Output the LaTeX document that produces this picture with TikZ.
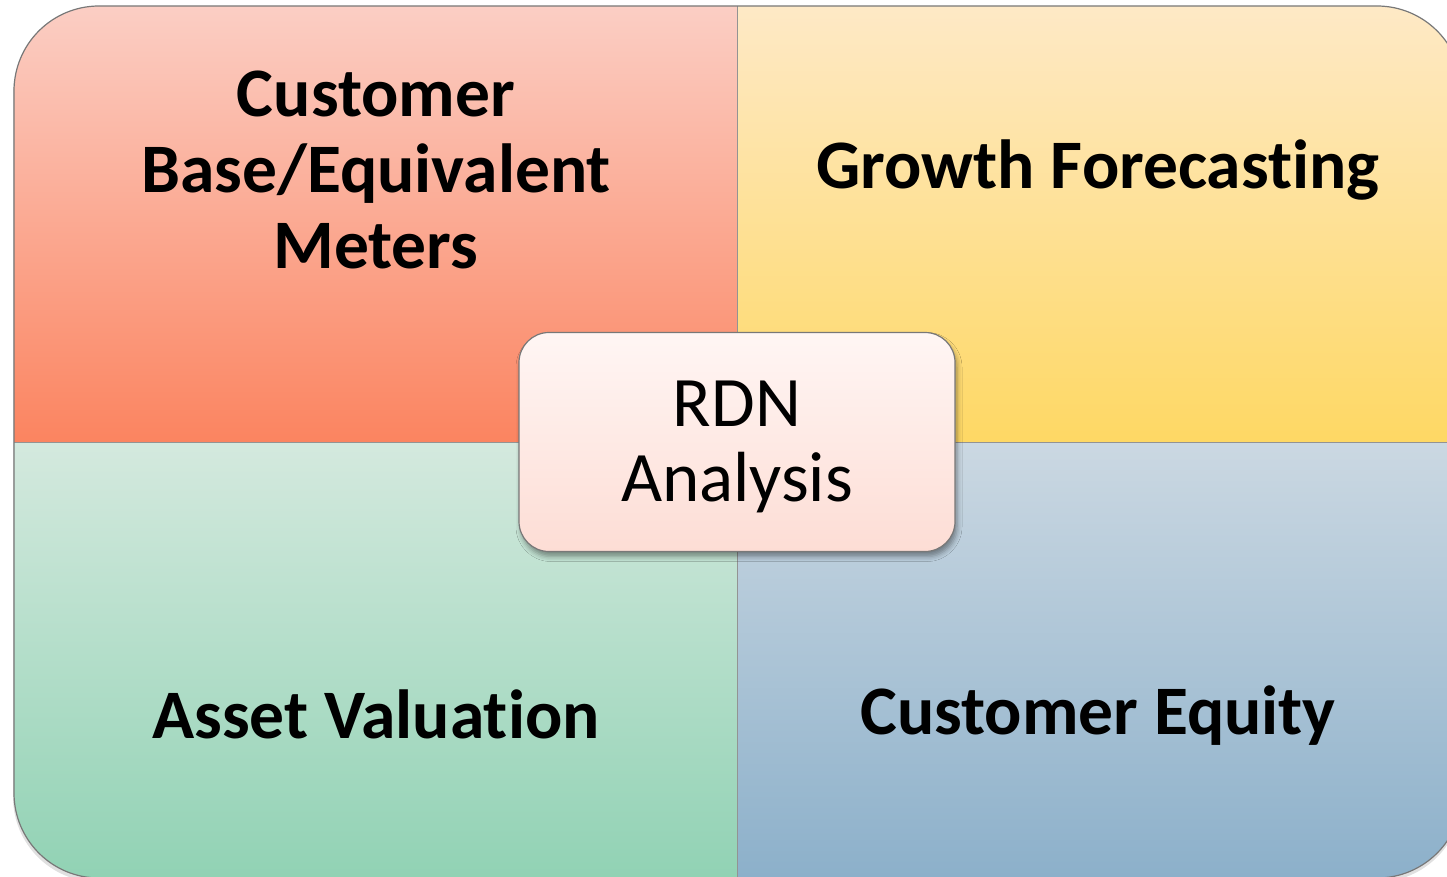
\documentclass[tikz,border=0pt]{standalone}
\usepackage{fontspec}
\setmainfont{Carlito}[Ligatures=NoCommon]
\usetikzlibrary{shadows,shadows.blur}
\definecolor{tlA}{RGB}{251,206,196}
\definecolor{tlB}{RGB}{251,132,96}
\definecolor{trA}{RGB}{254,233,198}
\definecolor{trB}{RGB}{254,216,100}
\definecolor{blA}{RGB}{212,233,222}
\definecolor{blB}{RGB}{145,210,180}
\definecolor{brA}{RGB}{203,216,226}
\definecolor{brB}{RGB}{140,176,202}
\definecolor{cA}{RGB}{255,246,244}
\definecolor{cB}{RGB}{253,221,213}
\definecolor{edge}{RGB}{120,120,120}
\tikzset{
  qlabel/.style={font=\fontsize{69.5}{76}\selectfont\bfseries, align=center, text=black, inner sep=0pt},
  centerbox/.style={draw=edge, line width=1.2pt, rounded corners=30pt, top color=cA, bottom color=cB,
     minimum width=436pt, minimum height=219pt, inner sep=0pt,
     font=\fontsize{71}{75}\selectfont, align=center,
     blur shadow={shadow xshift=2pt, shadow yshift=-5pt, shadow blur radius=5pt, shadow opacity=40}},
  divider/.style={draw=edge!80, line width=1pt}
}
\begin{document}
\begin{tikzpicture}[x=1pt,y=-1pt]
\useasboundingbox (0,0) rectangle (1447,877);
\clip (0,0) rectangle (1447,877);
% outer shadow
\fill[black, opacity=0.12, rounded corners=85pt] (13,10) rectangle (1462,882);
\begin{scope}
  \clip[rounded corners=85pt] (14,6) rectangle (1462,878);
  \shade[top color=tlA, bottom color=tlB] (14,6) rectangle (738,442);
  \shade[top color=trA, bottom color=trB] (738,6) rectangle (1462,442);
  \shade[top color=blA, bottom color=blB] (14,442) rectangle (738,878);
  \shade[top color=brA, bottom color=brB] (738,442) rectangle (1462,878);
\end{scope}
\coordinate (vt) at (737,6);
\coordinate (vb) at (737,878);
\coordinate (hl) at (14,442);
\coordinate (hr) at (1462,442);
\draw[divider] (vt) -- (vb);
\draw[divider] (hl) -- (hr);
\draw[draw=edge, line width=1.2pt, rounded corners=85pt] (14,6) rectangle (1462,878);
\node[qlabel] (cb) at (376,170) {Customer\\Base/Equivalent\\Meters};
\node[qlabel] (gf) at (1098,170) {Growth Forecasting};
\node[qlabel] (av) at (376,714) {Asset Valuation};
\node[qlabel] (ce) at (1098,716) {Customer Equity};
\node[centerbox] (rdn) at (737,442) {};
\node[font=\fontsize{71}{75}\selectfont, align=center, inner sep=0pt] (rdntext) at (737,447) {RDN\\Analysis};
\end{tikzpicture}
\end{document}
